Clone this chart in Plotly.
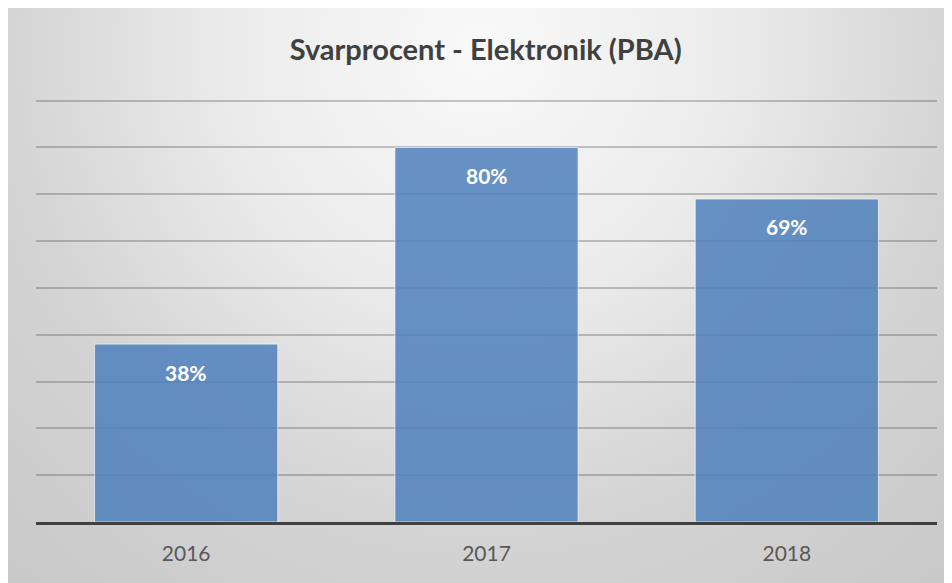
import plotly.graph_objects as go

# Response rate per year
years = ["2016", "2017", "2018"]
rates = [0.38, 0.80, 0.69]
labels = ["38%", "80%", "69%"]

# soft radial backdrop similar to the office-style chart area
bg_svg = (
    "data:image/svg+xml;utf8,"
    "<svg xmlns='http://www.w3.org/2000/svg' width='944' height='575' "
    "viewBox='0 0 944 575' preserveAspectRatio='none'>"
    "<defs><radialGradient id='g' gradientUnits='userSpaceOnUse' "
    "cx='472' cy='42' r='700'>"
    "<stop offset='0' stop-color='%23f9f9f9'/>"
    "<stop offset='0.35' stop-color='%23ececec'/>"
    "<stop offset='0.68' stop-color='%23d4d4d4'/>"
    "<stop offset='1' stop-color='%23c9c9c9'/>"
    "</radialGradient></defs>"
    "<rect width='944' height='575' fill='url(%23g)'/></svg>"
)

fig = go.Figure()

fig.add_trace(go.Bar(
    x=years,
    y=rates,
    marker=dict(color="#4f81bd", opacity=0.85,
                line=dict(color="rgba(255,255,255,0.7)", width=1)),
    hoverinfo="x+y",
))

# value labels sit a little below the top of each bar
# (category index as x, so the annotation doesn't read "2016" as a number)
for i, (val, txt) in enumerate(zip(rates, labels)):
    fig.add_annotation(
        x=i, y=val, text="<b>" + txt + "</b>",
        showarrow=False, yshift=-28,
        font=dict(family="Lato", size=21, color="white"),
    )

fig.update_layout(
    width=944,
    height=575,
    margin=dict(l=28, r=15, t=88, b=61),
    paper_bgcolor="#d8d8d8",
    plot_bgcolor="rgba(0,0,0,0)",
    bargap=0.39,
    showlegend=False,
    title=dict(
        text="<b>Svarprocent - Elektronik (PBA)</b>",
        x=0.506, xanchor="center",
        y=0.927, yanchor="middle",
        font=dict(family="Lato", size=29, color="#404040"),
    ),
    images=[dict(
        source=bg_svg,
        xref="paper", yref="paper",
        x=-28 / 901, y=(575 - 61) / 426,
        sizex=944 / 901, sizey=575 / 426,
        xanchor="left", yanchor="top",
        sizing="stretch", layer="below",
    )],
)

fig.update_xaxes(
    type="category", range=[-0.5, 2.5],
    showline=True, linecolor="#404040", linewidth=3,
    ticks="", ticklabelstandoff=11,
    tickfont=dict(family="Lato", size=21, color="#595959"),
    showgrid=False,
)
fig.update_yaxes(
    range=[0, 0.91], dtick=0.1,
    showticklabels=False, zeroline=False,
    gridcolor="rgba(70,70,70,0.3)", gridwidth=1.5,
)

fig.write_html("out.html")
